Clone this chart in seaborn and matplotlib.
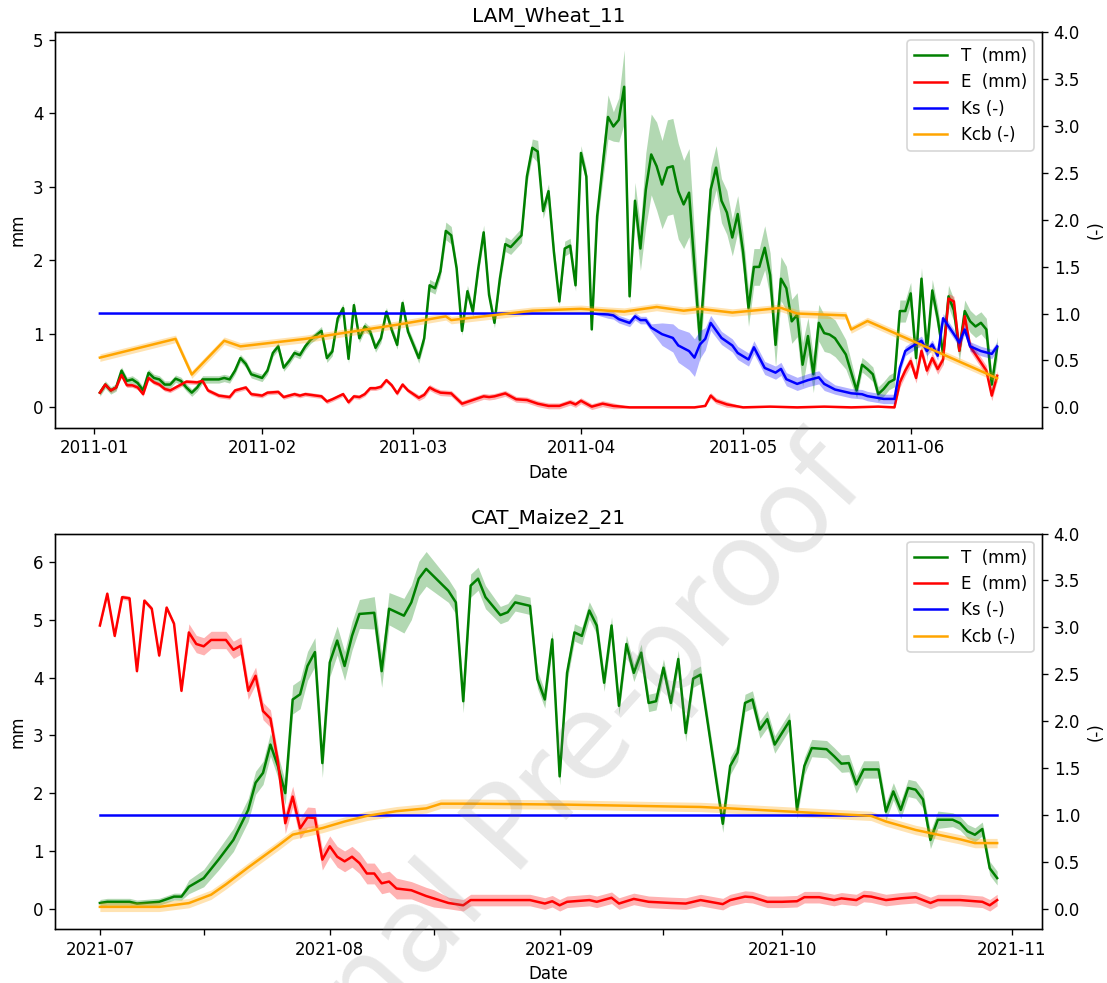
import numpy as np
import pandas as pd
import matplotlib
matplotlib.use('Agg')
import matplotlib.pyplot as plt
import matplotlib.dates as mdates
import seaborn as sns

# ============================
# LAM_Wheat_11 (days since 2011-01-01)
# ============================
wheat_start = '2011-01-01'

wheat_T_day = [1, 2, 3, 4, 5, 6, 7, 8, 9, 10, 11, 12, 13, 14, 15, 16, 17, 18, 19, 20,
               23, 24, 25, 26, 27, 28, 29, 31, 32, 33, 34, 35, 36, 37, 38, 39, 40,
               42, 43, 44, 45, 46, 47, 48, 49, 50, 51, 52, 53, 54, 55, 56, 57, 58,
               60, 61, 62, 63, 64, 65, 66, 67, 68, 69, 70, 71, 72, 73, 74, 75, 76, 77,
               79, 80, 81, 82, 83, 84, 85, 86, 87, 88, 89, 90, 91, 92, 93,
               95, 96, 97, 98, 99, 100, 101, 102, 103, 104, 105, 106, 107, 108, 109, 110,
               112, 114, 115, 116, 117, 118, 119, 120, 121, 122, 123, 124, 125, 126, 127,
               128, 129, 130, 131, 132, 133, 134, 135, 136, 137, 139,
               141, 142, 143, 144, 145, 146, 147, 148, 149, 150, 151, 152, 153, 154, 155,
               156, 157, 158, 159, 160, 161, 162, 163, 164, 165, 166, 167]
wheat_T = [0.20, 0.31, 0.23, 0.27, 0.50, 0.36, 0.38, 0.33, 0.23, 0.47, 0.40, 0.38, 0.31, 0.31,
           0.39, 0.36, 0.27, 0.20, 0.27, 0.38,
           0.38, 0.40, 0.38, 0.50, 0.67, 0.59, 0.45,
           0.40, 0.50, 0.74, 0.83, 0.54, 0.63, 0.74, 0.71, 0.83, 0.92,
           1.04, 0.67, 0.76, 1.21, 1.35, 0.66, 1.39, 0.94, 1.10, 1.03, 0.81, 0.94, 1.30, 1.05,
           0.85, 1.42, 1.03,
           0.67, 0.94, 1.66, 1.62, 1.85, 2.40, 2.34, 1.89, 1.04, 1.58, 1.30, 1.89, 2.38, 1.53,
           1.15, 1.75, 2.22, 2.18,
           2.34, 3.14, 3.53, 3.48, 2.67, 2.94, 2.11, 1.44, 2.16, 2.20, 1.66, 3.46, 3.14, 1.06, 2.60,
           3.95, 3.82, 3.91, 4.36, 1.51, 2.81, 2.16, 2.96, 3.44, 3.28, 3.03, 3.26, 3.28, 2.94,
           2.76, 2.92,
           0.92,
           2.96, 3.26, 2.81, 2.65, 2.31, 2.63, 2.11, 1.35, 1.91, 1.91, 2.17, 1.80, 0.85, 1.75,
           1.62, 1.17, 1.26, 0.58, 0.97, 0.45, 1.15, 1.01, 0.99, 0.94,
           0.72,
           0.23, 0.58, 0.52, 0.45, 0.18, 0.25, 0.34, 0.38, 1.31, 1.31, 1.55, 0.67, 1.75, 0.77,
           1.59, 1.21, 0.72, 1.51, 1.32, 0.77, 1.31, 1.17, 1.10, 1.15, 1.06, 0.31, 0.81]
wheat_T_sd = ([0.05] * 37 + [0.06] * 17 +
              [0.07, 0.07, 0.08, 0.08, 0.08, 0.12, 0.12, 0.08, 0.06, 0.08, 0.07, 0.08, 0.10,
               0.08, 0.07, 0.08, 0.10, 0.10] +
              [0.10, 0.10, 0.12, 0.15, 0.10, 0.10, 0.10, 0.06, 0.10, 0.10, 0.08, 0.10, 0.10,
               0.05, 0.12] +
              [0.30, 0.20, 0.30, 0.50, 0.10, 0.25, 0.30, 0.50, 0.55, 0.60, 0.60, 0.65, 0.65,
               0.65, 0.60, 0.60] +
              [0.30] + [0.30] * 4 + [0.25] * 6 + [0.30] * 8 + [0.25] * 6 + [0.20] +
              [0.10] * 8 + [0.15] * 19)

wheat_E_day = [1, 2, 3, 4, 5, 6, 7, 8, 9, 10, 11, 12, 13, 14, 16, 17, 19, 20, 21, 23, 25, 26,
               28, 29, 31, 32, 34, 35, 37, 38, 39, 41, 42, 43, 44, 46, 47, 48, 49, 50, 51, 52,
               53, 54, 55, 56, 57, 58,
               60, 61, 62, 63, 64, 66, 68, 70, 72, 73, 74, 76, 78, 80, 82, 84, 86, 88, 89, 90,
               91, 92, 94, 96,
               99, 105, 111, 113, 114, 115, 117, 120, 125, 130, 135, 140, 145, 148,
               149, 150, 151, 152, 153, 154, 155, 156, 157, 158, 159, 160, 161, 162,
               164, 165, 166, 167]
wheat_E = [0.20, 0.31, 0.23, 0.27, 0.44, 0.30, 0.30, 0.27, 0.18, 0.40, 0.34, 0.31, 0.25, 0.23,
           0.31, 0.35, 0.34, 0.36, 0.23, 0.16, 0.14, 0.23, 0.27, 0.18, 0.16, 0.20, 0.21, 0.14,
           0.18, 0.16, 0.18, 0.16, 0.15, 0.08, 0.11, 0.18, 0.07, 0.15, 0.14, 0.18, 0.26, 0.26,
           0.28, 0.37, 0.30, 0.19, 0.31, 0.23,
           0.13, 0.17, 0.27, 0.23, 0.20, 0.19, 0.05, 0.10, 0.15, 0.14, 0.15, 0.19, 0.11, 0.10,
           0.05, 0.02, 0.02, 0.07, 0.04, 0.09, 0.05, 0.01, 0.05, 0.02,
           0.00, 0.00, 0.00, 0.02, 0.16, 0.09, 0.04, 0.00, 0.01, 0.00, 0.01, 0.00, 0.01, 0.00,
           0.34, 0.50, 0.63, 0.40, 0.77, 0.50, 0.67, 0.52, 0.65, 1.48, 1.44, 0.77, 1.24, 0.83,
           0.61, 0.50, 0.16, 0.43]
wheat_E_sd = [0.03] * 48 + [0.04] * 24 + [0.01] * 4 + [0.04] * 3 + [0.01] * 7 + [0.07] * 18

wheat_Ks_day = [1, 92, 95, 96, 97, 99, 100, 101, 102, 103, 105, 107, 108, 110, 111, 112, 113,
                114, 116, 118, 119, 121, 122, 123, 124, 126, 127, 128, 130, 132, 134, 135,
                137, 140, 142, 143, 146, 148, 149, 150, 151, 153, 154, 155, 156, 157, 159,
                160, 161, 162, 164, 166, 167]
wheat_Ks = [1.0, 1.0, 0.99, 0.98, 0.94, 0.90, 0.97, 0.93, 0.93, 0.85, 0.78, 0.74, 0.66, 0.60,
            0.53, 0.67, 0.73, 0.90, 0.74, 0.66, 0.58, 0.51, 0.64, 0.53, 0.42, 0.37, 0.41, 0.30,
            0.25, 0.29, 0.32, 0.25, 0.19, 0.15, 0.14, 0.12, 0.09, 0.09, 0.42, 0.60, 0.64, 0.71,
            0.60, 0.67, 0.55, 0.95, 0.78, 0.69, 0.83, 0.65, 0.60, 0.57, 0.65]
wheat_Ks_sd = ([0.0, 0.0] + [0.04] * 8 +
               [0.12, 0.15, 0.18, 0.20, 0.20, 0.15, 0.12, 0.08] +
               [0.07] * 14 + [0.05] * 21)

wheat_Kcb_day = [1, 15, 18, 24, 27, 39, 57, 60, 65, 66, 75, 81, 90, 95, 98, 104, 109, 112,
                 118, 127, 130, 139, 140, 143, 167]
wheat_Kcb = [0.53, 0.73, 0.35, 0.71, 0.65, 0.73, 0.89, 0.92, 0.97, 0.93, 0.99, 1.03, 1.05,
             1.03, 1.02, 1.07, 1.03, 1.05, 1.01, 1.06, 1.00, 0.98, 0.83, 0.92, 0.31]
wheat_Kcb_sd = [0.04] * 25

# ============================
# CAT_Maize2_21 (days since 2021-07-01)
# ============================
maize_start = '2021-07-01'

maize_T_day = [0, 1, 4, 5, 8, 10, 11, 12, 14, 16, 18,
               20, 21, 22, 23, 24, 25, 26, 27, 28, 29, 30, 31, 32, 33, 34, 35,
               37, 38, 39, 41, 42, 43, 44, 47, 48, 49, 50, 51, 52, 54, 55, 56,
               58, 59, 60, 61, 62, 63, 64, 65, 66, 67, 68, 69, 70, 71, 72, 73, 74, 75,
               76, 77, 78, 79, 80, 81,
               84, 85, 86, 87, 88, 89, 90, 91, 93, 94, 95, 96,
               98, 99, 100, 101, 102, 103, 105, 106, 107, 108, 109, 110, 111, 112, 113,
               115, 116, 117, 118, 119, 120, 121]
maize_T = [0.10, 0.12, 0.12, 0.09, 0.12, 0.21, 0.21, 0.38, 0.53, 0.85, 1.19,
           1.71, 2.18, 2.35, 2.84, 2.47, 2.00, 3.62, 3.71, 4.20, 4.44, 2.52, 4.26, 4.64, 4.20,
           4.72, 5.10,
           5.12, 4.11, 5.19, 5.07, 5.30, 5.71, 5.88, 5.50, 5.30, 3.59, 5.59, 5.71, 5.39, 5.08,
           5.13, 5.30,
           5.24, 3.97, 3.62, 4.66, 2.29, 4.08, 4.78, 4.72, 5.16, 4.90, 3.91, 4.90, 3.51, 4.58,
           4.08, 4.43, 3.56, 3.59, 4.17, 3.56, 4.32, 3.04, 3.98, 4.05,
           1.47, 2.47, 2.70, 3.56, 3.62, 3.10, 3.28, 2.84, 3.25, 1.71, 2.47, 2.78,
           2.76, 2.64, 2.51, 2.52, 2.15, 2.41, 2.41, 1.68, 2.03, 1.71, 2.09, 2.06, 1.89, 1.19,
           1.54, 1.54, 1.48, 1.34, 1.28, 1.38, 0.70, 0.53]
maize_T_sd = ([0.06] * 7 + [0.12, 0.15, 0.18, 0.20] + [0.20] * 6 + [0.25] * 10 +
              [0.28] * 3 + [0.30] * 4 + [0.20] * 6 + [0.15] * 3 + [0.15] * 24 +
              [0.15] * 8 + [0.15] * 4 + [0.15] * 6 + [0.15] * 9 + [0.12] * 7)

maize_E_day = [0, 1, 2, 3, 4, 5, 6, 7, 8, 9, 10, 11, 12, 13, 14, 15,
               17, 18, 19, 20, 21, 22, 23, 24, 25, 26, 27, 28, 29, 30, 31, 32, 33, 34, 35, 36,
               37, 38, 39, 40,
               42, 43, 44, 45, 47, 49, 50, 53, 58, 60, 61, 62, 63, 66, 67, 69, 70, 72, 74, 77,
               79, 81, 84, 85, 87, 88, 90, 92, 94, 95, 97, 99, 100, 102, 103, 104, 106, 108,
               110, 112, 113, 116, 119, 120, 121]
maize_E = [4.90, 5.45, 4.72, 5.39, 5.37, 4.11, 5.33, 5.19, 4.38, 5.21, 4.93, 3.77, 4.78, 4.58,
           4.54, 4.65,
           4.65, 4.48, 4.55, 3.77, 4.03, 3.42, 3.29, 2.55, 1.48, 1.94, 1.39, 1.58, 1.57, 0.85,
           1.08, 0.90, 0.82, 0.90, 0.79, 0.61, 0.61, 0.44, 0.47, 0.35,
           0.32, 0.27, 0.22, 0.18, 0.10, 0.06, 0.15, 0.15, 0.15, 0.09, 0.13, 0.06, 0.12, 0.15,
           0.12, 0.19, 0.09, 0.17, 0.12, 0.10, 0.09, 0.15, 0.08, 0.15, 0.21, 0.20, 0.12, 0.12,
           0.13, 0.20, 0.20, 0.15, 0.18, 0.15, 0.22, 0.21, 0.15, 0.18, 0.20, 0.10, 0.15, 0.15,
           0.12, 0.06, 0.15]
maize_E_sd = [0.04] * 12 + [0.15] * 4 + [0.15] * 8 + [0.18] * 16 + [0.15] * 4 + [0.10] * 41

maize_Ks_day = [0, 121]
maize_Ks = [1.0, 1.0]
maize_Ks_sd = [0.0, 0.0]

maize_Kcb_day = [0, 8, 12, 15, 17, 20, 24, 26, 30, 33, 36, 40, 44, 46, 50, 63, 77, 81, 85,
                 92, 104, 106, 110, 113, 116, 118, 121]
maize_Kcb = [0.02, 0.02, 0.06, 0.15, 0.26, 0.44, 0.67, 0.79, 0.86, 0.93, 0.99, 1.04, 1.07,
             1.12, 1.12, 1.11, 1.09, 1.085, 1.07, 1.04, 0.99, 0.93, 0.84, 0.79, 0.74, 0.70,
             0.70]
maize_Kcb_sd = [0.05] * 27


def banda(inicio, dias, valores, sd):
    # three rows per day (low, mean, high): the min-max interval is the band
    dias = np.asarray(dias)
    valores = np.asarray(valores, dtype=float)
    sd = np.asarray(sd, dtype=float)
    datas = pd.Timestamp(inicio) + pd.to_timedelta(np.repeat(dias, 3), unit='D')
    v = np.column_stack([valores - sd, valores, valores + sd]).ravel()
    return pd.DataFrame({'Date': datas, 'valor': v})


def painel(ax, titulo, inicio, T, E, Ks, Kcb, minor15):
    ax2 = ax.twinx()
    for (d, v, s), cor, nome, eixo in [(T, 'green', 'T  (mm)', ax),
                                       (E, 'red', 'E  (mm)', ax),
                                       (Ks, 'blue', 'Ks (-)', ax2),
                                       (Kcb, 'orange', 'Kcb (-)', ax2)]:
        sns.lineplot(data=banda(inicio, d, v, s), x='Date', y='valor', ax=eixo,
                     color=cor, label=nome, errorbar=('pi', 100),
                     err_kws={'alpha': 0.3, 'linewidth': 0}, linewidth=1.5)
    for a in (ax, ax2):
        if a.get_legend() is not None:
            a.get_legend().remove()

    lo, hi = ax.get_ylim()
    ax2.set_ylim(lo / hi * 4.0, 4.0)

    h1, l1 = ax.get_legend_handles_labels()
    h2, l2 = ax2.get_legend_handles_labels()
    ax2.legend(h1 + h2, l1 + l2, loc='upper right')

    ax.set_title(titulo)
    ax.set_xlabel('Date')
    ax.set_ylabel('mm')
    ax2.set_ylabel('(-)')
    ax.xaxis.set_major_locator(mdates.MonthLocator())
    ax.xaxis.set_major_formatter(mdates.DateFormatter('%Y-%m'))
    if minor15:
        ax.xaxis.set_minor_locator(mdates.DayLocator(bymonthday=15))
        ax.tick_params(axis='x', which='minor', length=3.5, width=0.8)


fig, (ax_top, ax_bot) = plt.subplots(2, 1, figsize=(1107 / 120, 983 / 120), dpi=120)
fig.subplots_adjust(left=0.0497, right=0.9413, top=0.9674, bottom=0.0549, hspace=0.268)

painel(ax_top, 'LAM_Wheat_11', wheat_start,
       (wheat_T_day, wheat_T, wheat_T_sd),
       (wheat_E_day, wheat_E, wheat_E_sd),
       (wheat_Ks_day, wheat_Ks, wheat_Ks_sd),
       (wheat_Kcb_day, wheat_Kcb, wheat_Kcb_sd), minor15=False)

painel(ax_bot, 'CAT_Maize2_21', maize_start,
       (maize_T_day, maize_T, maize_T_sd),
       (maize_E_day, maize_E, maize_E_sd),
       (maize_Ks_day, maize_Ks, maize_Ks_sd),
       (maize_Kcb_day, maize_Kcb, maize_Kcb_sd), minor15=True)

# marca d'agua do artigo
fig.text(0.472, 0.158, 'Journal Pre-proof', rotation=48, fontsize=70, color='gray',
         alpha=0.18, ha='center', va='center', rotation_mode='anchor', zorder=10)

fig.savefig('out.png', dpi=120)
